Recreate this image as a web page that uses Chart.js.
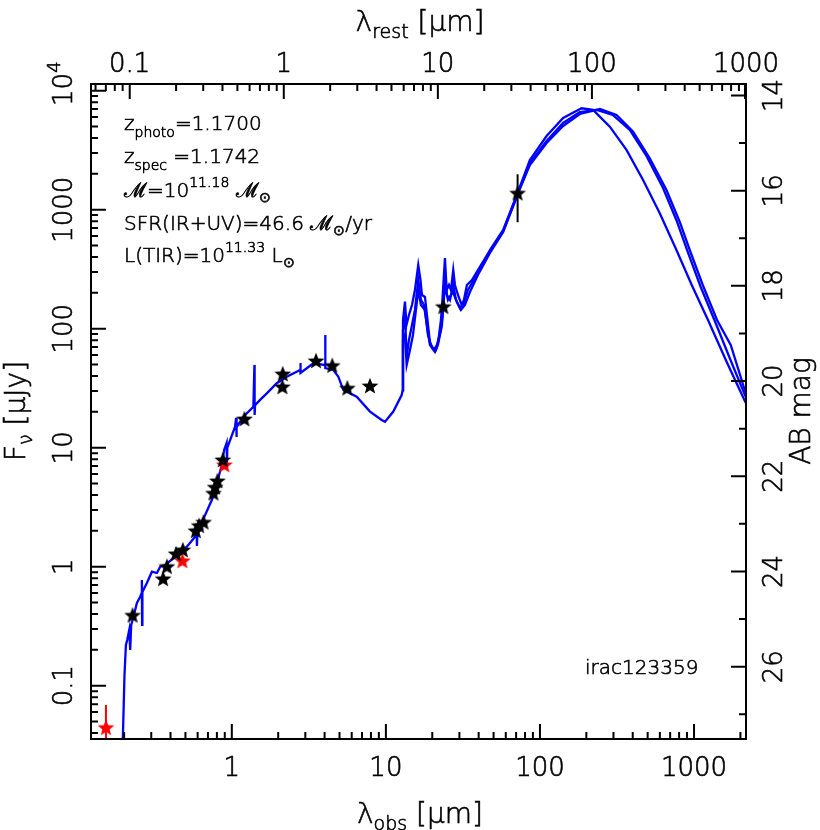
<!DOCTYPE html>
<html>
<head>
<meta charset="utf-8">
<script src="https://cdn.jsdelivr.net/npm/chart.js@4.4.1/dist/chart.umd.min.js"></script>
<style>
  html, body { margin: 0; padding: 0; background: #fff; }
</style>
</head>
<body>
<canvas id="grafico-sed" width="820" height="830"></canvas>
<script>
// redshift and plot ranges
const zSpec = 1.1742;
const xMin = 0.1219, xMax = 1000 * (1 + zSpec);
const yMin = 0.03565, yMax = 11376;

// stellar part of the model (obs wavelength um, flux uJy)
const stelLam = [0.1957,0.2011,0.2054,0.2094,0.2158,0.2190,0.2223,0.2301,0.2421,0.2542,0.2600,0.2608,0.2616,0.2628,0.2810,0.3029,0.3264,0.3428,0.3693,0.3981,0.4397,0.5108,0.578,0.5911,0.5937,0.5974,0.6229,0.6712,0.7418,0.7994,0.8271,0.8612,0.8915,0.9253,0.9297,0.9350,0.9749,1.050,1.066,1.071,1.077,1.189,1.380,1.402,1.406,1.416,1.526,1.687,1.958,2.274,2.773,2.786,2.80,3.382,4.027,4.04,4.05,4.56,4.913,5.293,6.465,7.886,9.393,9.87,11.17,12.66,12.85];
const stelFlux = [0.0318,0.123,0.220,0.242,0.294,0.200,0.324,0.380,0.495,0.560,0.601,0.773,0.324,0.613,0.730,0.908,0.885,1.0,1.033,1.117,1.303,1.472,1.786,2.033,1.493,1.846,2.241,2.716,3.635,4.70,5.90,7.16,9.57,10.96,7.44,9.94,11.6,15.0,17.8,12.3,14.9,18.2,22.1,49.5,18.8,22.8,25.2,28.6,34.8,39.5,45.0,51.5,42.4,51.2,49.5,88.5,46.7,45.0,39.5,30.5,26.8,20.1,17.1,16.5,20.1,27.7,30.5];

// dust templates (mid + far IR)
const dust1Lam = [12.85,12.91,13.30,13.60,14.12,14.77,15.44,16.22,16.77,17.14,17.93,18.47,19.32,20.20,21.13,21.94,22.77,23.28,24.17,24.80,25.66,26.44,27.36,28.06,29.36,31.02,32.10,33.56,36.18,39.56,42.64,47.33,57.71,71.56,86.0,110.4,141.4,186.2,221.3,284.0,364.4,467.0,599.3,768.9,966.2,1232,1630,2164];
const dust1Flux = [30.5,118.3,168.6,107.4,130.3,158.2,211.3,342.8,256.6,191.9,184.6,130.3,75.9,68.8,66.2,80.4,118.3,174.3,392.8,211.3,232.9,211.3,311.2,232.9,191.9,158.2,174.3,232.9,256.6,311.2,363.6,458.3,675,1380,2612,4157,5888,7108,6887,4981,3176,1778,933,458.3,232.9,118.3,52.5,23.8];
const dust2Lam = [12.85,12.91,13.30,13.64,14.12,14.77,15.44,16.22,16.89,17.66,18.47,19.32,20.51,21.45,22.77,23.46,24.17,24.91,26.05,27.36,28.49,30.24,32.10,34.07,37.83,42.64,47.33,57.71,71.56,86.0,110.4,141.4,181.5,244.7,314.0,402.2,516.0,662.2,807.8,937.8,1139,1410,1730,2164];
const dust2Flux = [30.5,97.5,130.3,57.9,80.4,107.4,143.6,256.6,174.3,158.2,107.4,73.0,66.2,73.0,97.5,143.6,282.5,191.9,174.3,232.9,174.3,149.2,164.4,211.3,266.6,342.8,441.3,662,1355,2372,3630,5051,6372,7010,6252,4519,2704,1464,788,458.3,232.9,118.3,72.9,28.8];
const dust3Lam = [12.85,12.91,13.30,13.64,14.33,14.99,16.22,16.89,17.93,18.75,19.91,20.82,21.77,23.11,24.17,25.28,27.23,28.92,30.69,32.58,35.10,39.56,47.33,57.71,71.56,86.0,110.4,141.4,181.5,233.9,297.0,382.8,491.2,629.5,772.3,910.2,1105,1373,1704,2164];
const dust3Flux = [30.5,80.4,88.5,49.5,66.2,88.5,211.3,158.2,143.6,88.5,68.8,63.7,73.0,107.4,232.9,174.3,203.3,167.5,143.6,158.2,203.3,282.5,432.7,649.9,1330,2466,3778,5353,6607,6887,6252,4674,2827,1522,803.5,441.3,224.0,113.8,56.7,26.7];

// photometry
const fotLam = [0.227,0.358,0.379,0.435,0.481,0.584,0.614,0.655,0.760,0.779,0.806,0.874,1.207,2.14,2.13,3.52,4.49,5.62,7.88,23.6,71.6];
const fotFlux = [0.39,0.79,1.0,1.28,1.38,2.0,2.21,2.36,4.14,4.65,5.25,7.88,17.4,41.6,32.4,53.6,48.9,31.6,33.0,153,1374];
const limLam = [0.478,0.895,0.1524];
const limFlux = [1.12,7.16,0.0444];
// error bars [lambda, low, high]
const erroPreto = [71.6, 784, 1983];
const erroVermelho = [0.1524, 0.01, 0.0689];

// axis labels
const obsTicks = [1, 10, 100, 1000];
const restTicks = [0.1, 1, 10, 100, 1000];
const fluxTicks = [0.1, 1, 10, 100, 1000];
const magTicks = [14, 16, 18, 20, 22, 24, 26];

const FAM = '"DejaVu Sans"';
function fonte(size) { return '200 ' + size + 'px ' + FAM; }

function pares(lam, flux) {
    return lam.map((l, i) => ({ x: l, y: flux[i] }));
}

function criarEstrela(cor) {
    const c = document.createElement('canvas');
    c.width = 20; c.height = 20;
    const g = c.getContext('2d');
    g.fillStyle = cor;
    g.beginPath();
    for (let i = 0; i < 10; i++) {
        const r = i % 2 === 0 ? 8.8 : 3.8;
        const ang = -Math.PI / 2 + i * Math.PI / 5;
        const px = 10 + r * Math.cos(ang), py = 10.5 + r * Math.sin(ang);
        if (i === 0) g.moveTo(px, py); else g.lineTo(px, py);
    }
    g.closePath();
    g.fill();
    return c;
}

function textoRico(ctx, partes, x, y, alinhar) {
    let w = 0;
    partes.forEach(p => { ctx.font = fonte(p[1]); w += ctx.measureText(p[0]).width; });
    let cx = alinhar === 'center' ? x - w / 2 : x;
    ctx.lineWidth = 0.6;
    partes.forEach(p => {
        ctx.font = fonte(p[1]);
        ctx.fillText(p[0], cx, y + (p[2] || 0));
        ctx.strokeText(p[0], cx, y + (p[2] || 0));
        cx += ctx.measureText(p[0]).width;
    });
}

function textoGirado(ctx, partes, x, y) {
    ctx.save();
    ctx.translate(x, y);
    ctx.rotate(-Math.PI / 2);
    textoRico(ctx, partes, 0, 0, 'center');
    ctx.restore();
}

function dentro(v, a, b) { return v >= a * 0.9999 && v <= b * 1.0001; }

const eixos = {
    id: 'eixos',
    afterDraw(chart) {
        const { ctx, chartArea: a } = chart;
        const sx = chart.scales.x, sy = chart.scales.y;
        ctx.save();
        ctx.strokeStyle = '#000';
        ctx.fillStyle = '#000';
        ctx.lineWidth = 2;
        ctx.strokeRect(a.left, a.top, a.right - a.left, a.bottom - a.top);

        ctx.beginPath();
        for (let e = -3; e <= 4; e++) {
            for (let m = 1; m <= 9; m++) {
                const v = m * Math.pow(10, e);
                const len = m === 1 ? 15 : 7;
                if (dentro(v, xMin, xMax)) {
                    const px = sx.getPixelForValue(v);
                    ctx.moveTo(px, a.bottom); ctx.lineTo(px, a.bottom - len);
                }
                const o = v * (1 + zSpec);
                if (dentro(o, xMin, xMax)) {
                    const px = Math.min(sx.getPixelForValue(o), a.right - 1);
                    ctx.moveTo(px, a.top); ctx.lineTo(px, a.top + len);
                }
                if (dentro(v, yMin, yMax)) {
                    const py = sy.getPixelForValue(v);
                    ctx.moveTo(a.left, py); ctx.lineTo(a.left + len, py);
                }
            }
        }
        for (let mag = 12; mag <= 28; mag++) {
            const f = Math.pow(10, (23.9 - mag) / 2.5);
            if (!dentro(f, yMin, yMax)) continue;
            const py = sy.getPixelForValue(f);
            const len = mag % 2 === 0 ? 15 : 7;
            ctx.moveTo(a.right, py); ctx.lineTo(a.right - len, py);
        }
        ctx.stroke();

        ctx.textBaseline = 'alphabetic';
        ctx.textAlign = 'left';
        obsTicks.forEach(v => {
            textoRico(ctx, [[String(v), 26]], sx.getPixelForValue(v), 776, 'center');
        });
        restTicks.forEach(v => {
            textoRico(ctx, [[String(v), 26]], sx.getPixelForValue(v * (1 + zSpec)), 72, 'center');
        });
        fluxTicks.forEach(v => {
            textoGirado(ctx, [[String(v), 26]], 72, sy.getPixelForValue(v));
        });
        textoGirado(ctx, [['10', 26], ['4', 18, -12]], 72, sy.getPixelForValue(10000) - 7);
        magTicks.forEach(m => {
            textoGirado(ctx, [[String(m), 26]], 782, sy.getPixelForValue(Math.pow(10, (23.9 - m) / 2.5)));
        });

        // axis titles
        textoRico(ctx, [['λ', 28], ['obs', 19, 7], [' [μm]', 28]], 420, 823, 'center');
        textoRico(ctx, [['λ', 28], ['rest', 19, 7], [' [μm]', 28]], 420, 31, 'center');
        textoGirado(ctx, [['F', 28], ['ν', 19, 7], [' [μJy]', 28]], 25, 411);
        textoGirado(ctx, [['AB mag', 28]], 810, 411);

        // info block
        const x0 = 124;
        textoRico(ctx, [['z', 20], ['photo', 14, 7], ['=1.1700', 20]], x0, 130);
        textoRico(ctx, [['z', 20], ['spec', 14, 7], [' =1.1742', 20]], x0, 163);
        textoRico(ctx, [['ℳ', 20], ['=10', 20], ['11.18', 14, -10], [' ℳ', 20], ['⊙', 14, 5]], x0, 197);
        textoRico(ctx, [['SFR(IR+UV)=46.6 ', 20], ['ℳ', 20], ['⊙', 14, 5], ['/yr', 20]], x0, 230);
        textoRico(ctx, [['L(TIR)=10', 20], ['11.33', 14, -10], [' L', 20], ['⊙', 14, 5]], x0, 262);
        textoRico(ctx, [['irac123359', 20]], 585, 674);
        ctx.restore();
    }
};

const estrelaPreta = criarEstrela('#000000');
const estrelaVermelha = criarEstrela('#ff0000');

function linha(dados, cor, largura) {
    return {
        data: dados,
        showLine: true,
        borderColor: cor,
        borderWidth: largura,
        pointRadius: 0,
        fill: false,
        tension: 0
    };
}

const datasets = [
    {
        data: pares(fotLam, fotFlux),
        pointStyle: estrelaPreta,
        pointRadius: 7,
        showLine: false
    },
    {
        data: pares(limLam, limFlux),
        pointStyle: estrelaVermelha,
        pointRadius: 7,
        showLine: false
    },
    linha([{ x: erroPreto[0], y: erroPreto[1] }, { x: erroPreto[0], y: erroPreto[2] }], '#000000', 2),
    linha([{ x: erroVermelho[0], y: erroVermelho[1] }, { x: erroVermelho[0], y: erroVermelho[2] }], '#ff0000', 2),
    linha(pares(dust1Lam, dust1Flux), '#0000ff', 2.3),
    linha(pares(dust2Lam, dust2Flux), '#0000ff', 2.3),
    linha(pares(dust3Lam, dust3Flux), '#0000ff', 2.3),
    linha(pares(stelLam, stelFlux), '#0000ff', 2.3)
];

const graficoSed = new Chart(document.getElementById('grafico-sed'), {
    type: 'scatter',
    data: { datasets: datasets },
    options: {
        responsive: false,
        animation: false,
        events: [],
        layout: { padding: { left: 91, right: 74, top: 84, bottom: 91 } },
        plugins: {
            legend: { display: false },
            tooltip: { enabled: false }
        },
        scales: {
            x: { type: 'logarithmic', min: xMin, max: xMax, display: false, bounds: 'data' },
            y: { type: 'logarithmic', min: yMin, max: yMax, display: false, bounds: 'data' }
        }
    },
    plugins: [eixos]
});
</script>
</body>
</html>
